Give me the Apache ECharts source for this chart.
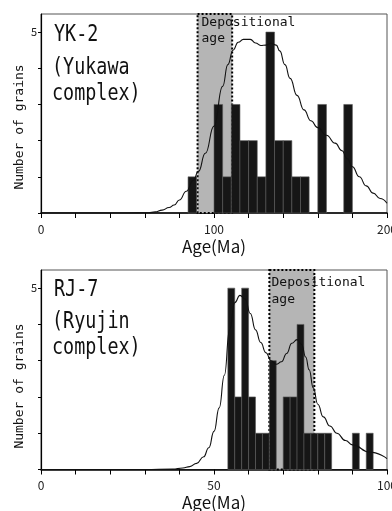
<!DOCTYPE html>
<html>
<head>
<meta charset="utf-8">
<script src="https://cdn.jsdelivr.net/npm/echarts@6/dist/echarts.min.js"></script>
<style>
html,body{margin:0;padding:0;background:#fff;}
#chart{width:392px;height:511px;}
</style>
</head>
<body>
<div id="chart"></div>
<script>
// ---------- DATA ----------
// YK-2 (Yukawa complex)
const ykBinStart = [85, 100, 105, 110, 115, 120, 125, 130, 135, 140, 145, 150, 160, 175];
const ykCount    = [1, 3, 1, 3, 2, 2, 1, 5, 2, 2, 1, 1, 3, 3];
const ykBinWidth = 5;
const ykDepAge   = [90.5, 110.5];
const ykKdeAge   = [0, 50, 62, 66, 70, 74, 77, 80, 84, 88, 91, 95, 100, 105, 108, 111, 114, 117, 121, 124, 127, 130, 133, 136, 138, 141, 144, 148, 152, 156, 160, 165, 170, 174, 177, 180, 184, 188, 192, 196, 200];
const ykKdeVal   = [0, 0, 0.005, 0.03, 0.08, 0.15, 0.22, 0.36, 0.6, 0.9, 1.15, 1.65, 2.4, 3.5, 4.1, 4.5, 4.72, 4.8, 4.8, 4.7, 4.63, 4.64, 4.69, 4.64, 4.48, 4.1, 3.72, 3.25, 2.85, 2.55, 2.36, 2.15, 1.93, 1.72, 1.5, 1.28, 1.0, 0.75, 0.55, 0.4, 0.27];
const ykXTicks   = [0, 100, 200];

// RJ-7 (Ryujin complex)
const rjBinStart = [54, 56, 58, 60, 62, 64, 66, 70, 72, 74, 76, 78, 80, 82, 90, 94];
const rjCount    = [5, 2, 5, 2, 1, 1, 3, 2, 2, 4, 1, 1, 1, 1, 1, 1];
const rjBinWidth = 2;
const rjDepAge   = [66, 79];
const rjKdeAge   = [0, 30, 38, 41, 43, 45, 47, 48.5, 50, 51.5, 53, 54.5, 56, 57.5, 59, 60.5, 62, 63.5, 65, 66.5, 68, 69.5, 71, 72.5, 74, 75.3, 76.5, 77.5, 78.7, 80, 81.6, 83.5, 85.5, 88, 90, 95, 100];
const rjKdeVal   = [0, 0, 0.01, 0.04, 0.08, 0.17, 0.35, 0.6, 1.05, 1.7, 2.6, 3.85, 4.6, 4.8, 4.7, 4.3, 3.85, 3.5, 3.22, 3.0, 2.9, 2.97, 3.2, 3.48, 3.58, 3.45, 3.1, 2.75, 2.25, 1.8, 1.45, 1.2, 1.0, 0.8, 0.68, 0.48, 0.3];
const rjXTicks   = [0, 50, 100];

const yLabelValues = [5];
const yTickValues  = [0, 1, 2, 3, 4, 5];

// ---------- HELPERS ----------
const MONO = '"DejaVu Sans Mono", "Liberation Mono", monospace';
const SANS = '"Noto Sans CJK JP", "Noto Sans", sans-serif';

function binsData(starts, counts, w) {
  return starts.map((s, i) => [s, s + w, counts[i]]);
}
function kdeData(ages, vals) {
  return ages.map((a, i) => [a, vals[i]]);
}
function boxRender(params, api) {
  const x0 = api.coord([api.value(0), 0])[0];
  const x1 = api.coord([api.value(1), 0])[0];
  const cs = params.coordSys;
  const shape = { x: x0, y: cs.y, width: x1 - x0, height: cs.height };
  return {
    type: 'group',
    children: [
      { type: 'rect', shape: shape, style: { fill: '#b5b5b5' } },
      { type: 'rect', shape: shape, style: { fill: null, stroke: '#000', lineWidth: 2, lineDash: [2, 2] } }
    ]
  };
}
function barRender(params, api) {
  const p0 = api.coord([api.value(0), api.value(2)]);
  const p1 = api.coord([api.value(1), 0]);
  return {
    type: 'rect',
    shape: { x: p0[0], y: p0[1], width: p1[0] - p0[0], height: p1[1] - p0[1] },
    style: { fill: '#161616', stroke: '#5a5a5a', lineWidth: 0.6 }
  };
}
function xAxisCfg(grid, max, interval, labels) {
  return {
    type: 'value', gridIndex: grid, min: 0, max: max, interval: interval,
    axisLine: { show: true, onZero: false, lineStyle: { color: '#000', width: 1.5 } },
    axisTick: { show: true, inside: false, length: 5, lineStyle: { color: '#000', width: 1 } },
    axisLabel: {
      margin: 10, fontSize: 12, color: '#222', fontFamily: SANS,
      alignMinLabel: 'center', alignMaxLabel: 'center',
      formatter: v => labels.includes(v) ? String(v) : ''
    },
    splitLine: { show: false },
    name: 'Age(Ma)', nameLocation: 'middle', nameGap: 25,
    nameTextStyle: { fontSize: 17, color: '#111', fontFamily: SANS }
  };
}
function yAxisCfg(grid) {
  return {
    type: 'value', gridIndex: grid, min: 0, max: 5.5, interval: 1,
    axisLine: { show: true, lineStyle: { color: '#000', width: 1.2 } },
    axisTick: { show: true, inside: false, length: 3, customValues: yTickValues, lineStyle: { color: '#000' } },
    axisLabel: {
      margin: 4, fontSize: 11, color: '#222', fontFamily: SANS,
      formatter: v => yLabelValues.includes(v) ? String(v) : ''
    },
    splitLine: { show: false }
  };
}
function txt(text, x, y, font, extra, align) {
  return Object.assign({
    type: 'text', x: x, y: y, z: 100,
    style: { text: text, font: font, fill: '#111', align: align || 'left', verticalAlign: 'middle' }
  }, extra || {});
}
const TITLE_FONT = '23px ' + MONO;
const TITLE_T = { scaleX: 0.8 };

const chart = echarts.init(document.getElementById('chart'), null, { renderer: 'canvas' });
chart.setOption({
  animation: false,
  backgroundColor: '#fff',
  grid: [
    { left: 41, top: 14, width: 346, height: 199, show: true, borderColor: '#555', borderWidth: 1,
      backgroundColor: 'transparent', containLabel: false, outerBoundsMode: 'none' },
    { left: 41, top: 270, width: 346, height: 199.5, show: true, borderColor: '#555', borderWidth: 1,
      backgroundColor: 'transparent', containLabel: false, outerBoundsMode: 'none' }
  ],
  xAxis: [xAxisCfg(0, 200, 20, ykXTicks), xAxisCfg(1, 100, 10, rjXTicks)],
  yAxis: [yAxisCfg(0), yAxisCfg(1)],
  series: [
    { type: 'custom', name: 'YK depositional', xAxisIndex: 0, yAxisIndex: 0, z: 1,
      renderItem: boxRender, data: [ykDepAge], encode: { x: [0, 1] } },
    { type: 'custom', name: 'YK grains', xAxisIndex: 0, yAxisIndex: 0, z: 2,
      renderItem: barRender, data: binsData(ykBinStart, ykCount, ykBinWidth), encode: { x: [0, 1], y: 2 } },
    { type: 'line', name: 'YK KDE', xAxisIndex: 0, yAxisIndex: 0, z: 3,
      data: kdeData(ykKdeAge, ykKdeVal), smooth: 0.5, smoothMonotone: 'x', showSymbol: false,
      lineStyle: { color: '#111', width: 1.1 } },

    { type: 'custom', name: 'RJ depositional', xAxisIndex: 1, yAxisIndex: 1, z: 1,
      renderItem: boxRender, data: [rjDepAge], encode: { x: [0, 1] } },
    { type: 'custom', name: 'RJ grains', xAxisIndex: 1, yAxisIndex: 1, z: 2,
      renderItem: barRender, data: binsData(rjBinStart, rjCount, rjBinWidth), encode: { x: [0, 1], y: 2 } },
    { type: 'line', name: 'RJ KDE', xAxisIndex: 1, yAxisIndex: 1, z: 3,
      data: kdeData(rjKdeAge, rjKdeVal), smooth: 0.5, smoothMonotone: 'x', showSymbol: false,
      lineStyle: { color: '#111', width: 1.1 } }
  ],
  graphic: [
    txt('YK-2', 54, 35, TITLE_FONT, TITLE_T),
    txt('(Yukawa', 52, 68, TITLE_FONT, TITLE_T),
    txt('complex)', 52, 94, TITLE_FONT, TITLE_T),
    txt('Depositional', 201.5, 23, '13px ' + MONO),
    txt('age', 201.5, 39, '13px ' + MONO),
    txt('Number of grains', 20, 127, '13px ' + MONO, { rotation: Math.PI / 2 }, 'center'),

    txt('RJ-7', 54, 290, TITLE_FONT, TITLE_T),
    txt('(Ryujin', 52, 322, TITLE_FONT, TITLE_T),
    txt('complex)', 52, 348, TITLE_FONT, TITLE_T),
    txt('Depositional', 271.5, 283, '13px ' + MONO),
    txt('age', 271.5, 300, '13px ' + MONO),
    txt('Number of grains', 20, 386, '13px ' + MONO, { rotation: Math.PI / 2 }, 'center')
  ]
});
</script>
</body>
</html>
